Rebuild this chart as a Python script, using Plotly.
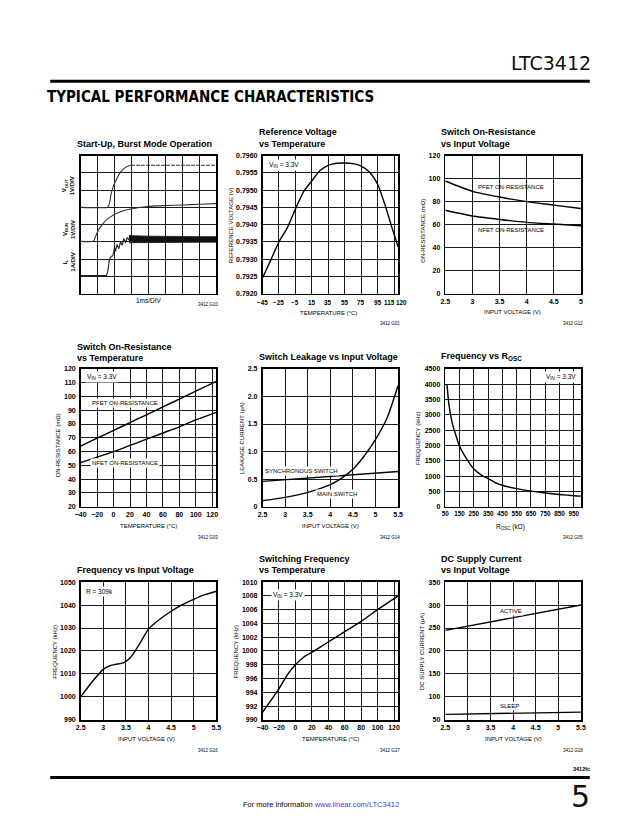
import plotly.graph_objects as go

W, H = 639, 829
SANS = "Liberation Sans, Arial, Helvetica, sans-serif"

# ---------------- DATA ----------------
# Panel 1: start-up scope traces (divisions)
vout_x = [0, 1.55, 1.65, 1.73, 1.8, 1.9, 2.0, 2.1, 2.25, 2.39, 2.55, 2.68, 2.85, 2.97]
vout_y = [5.0, 5.0, 5.1, 5.4, 5.8, 6.15, 6.4, 6.6, 6.9, 7.1, 7.25, 7.35, 7.42, 7.45]
vout_tail_x = [2.97, 8.0]
vout_tail_y = [7.45, 7.45]
vrun_x = [0, 0.75, 0.85, 1.04, 1.25, 1.43, 1.62, 1.81, 2.1, 2.39, 2.68, 2.97, 3.45, 3.93, 4.9, 6.05, 7.0, 8.0]
vrun_y = [3.03, 3.03, 3.25, 3.67, 3.97, 4.19, 4.36, 4.48, 4.64, 4.76, 4.85, 4.91, 4.99, 5.05, 5.1, 5.14, 5.18, 5.22]
il_x = [0, 1.52, 1.6, 1.7, 1.8, 1.9, 2.0, 2.05, 2.15, 2.25, 2.35, 2.45, 2.55, 2.65, 2.75, 2.85]
il_y = [1.05, 1.05, 1.3, 2.0, 2.15, 2.2, 2.7, 2.45, 2.85, 2.6, 3.0, 2.8, 3.2, 2.95, 3.25, 3.1]
il_band_x = [2.85, 3.0, 4.0, 5.0, 6.0, 7.0, 8.0]
il_band_hi = [3.38, 3.36, 3.33, 3.31, 3.31, 3.3, 3.3]
il_band_lo = [2.95, 2.97, 2.98, 2.98, 2.98, 2.98, 2.98]

# Panel 2: reference voltage vs temperature
ref_t = [-45, -35, -25, -15, -5, 5, 15, 25, 35, 45, 55, 65, 75, 85, 95, 105, 112, 120]
ref_v = [0.79245, 0.79297, 0.79350, 0.79390, 0.79445, 0.79496, 0.79527, 0.79557, 0.79572,
         0.79578, 0.79579, 0.79577, 0.79570, 0.79553, 0.79517, 0.79450, 0.79395, 0.79335]
ref_xticks = [-45, -25, -5, 15, 35, 55, 75, 95, 115, 120]
ref_xrange = [-45, 120]

# Panel 3: switch on-resistance vs input voltage
ronv_v = [2.5, 3.0, 3.5, 4.0, 4.5, 5.0]
ronv_pfet = [98, 89, 84, 80, 77, 74]
ronv_nfet = [72.5, 67.5, 64.5, 62, 60.5, 59]

# Panel 4: switch on-resistance vs temperature
ront_t = [-40, -20, 0, 20, 40, 60, 80, 100, 125]
ront_pfet = [64, 69.7, 75.4, 81, 86.7, 92.4, 98.1, 103.8, 111]
ront_nfet = [52, 56, 60, 64.5, 69, 73.5, 78, 83, 88.5]

# Panel 5: switch leakage vs input voltage
leak_v = [2.5, 3.0, 3.5, 4.0, 4.25, 4.5, 4.75, 5.0, 5.25, 5.5]
leak_main = [0.11, 0.17, 0.26, 0.40, 0.52, 0.68, 0.92, 1.22, 1.6, 2.2]
leak_sync_v = [2.5, 5.5]
leak_sync = [0.46, 0.64]

# Panel 6: frequency vs ROSC
rosc = [62, 75, 100, 125, 150, 200, 250, 300, 350, 400, 450, 550, 650, 750, 850, 950, 1000]
rosc_f = [4000, 3350, 2700, 2320, 1970, 1560, 1230, 1040, 920, 790, 700, 590, 510, 450, 400, 360, 345]

# Panel 7: frequency vs input voltage
fv_v = [2.5, 2.75, 3.0, 3.15, 3.27, 3.4, 3.5, 3.6, 3.67, 3.8, 4.0, 4.25, 4.5, 4.75, 5.0, 5.25, 5.5]
fv_f = [1000, 1006.5, 1012, 1013.6, 1014.2, 1014.6, 1015.5, 1017.2, 1019, 1023, 1029.5, 1033.8, 1037.3, 1040.2, 1042.5, 1044.5, 1046]

# Panel 8: switching frequency vs temperature
ft_t = [-40, -30, -20, -10, 0, 10, 20, 40, 60, 80, 100, 125]
ft_f = [991.1, 992.8, 994.5, 996.5, 998.0, 999.1, 999.8, 1001.3, 1002.8, 1004.3, 1006.0, 1008.0]

# Panel 9: DC supply current vs input voltage
dc_v = [2.5, 5.5]
dc_active = [245, 300]
dc_sleep = [62, 67]

# ---------------- LAYOUT HELPERS ----------------
def X(px):
    return px / W

def Y(py):
    return 1 - py / H

cols = [(76, 214), (261, 399), (447, 585)]
rows = [(153, 292), (368, 507), (583, 722)]
PADL = 5   # annotation inner padding compensation (left-anchored)
PADR = 5   # (right-anchored)

fig = go.Figure()
layout = dict(width=W, height=H, margin=dict(l=0, r=0, t=0, b=0),
              paper_bgcolor="white", plot_bgcolor="white", showlegend=False)

TICK = 7


def make_axes(n, col, row, xr, xt, yr, yt, xtt=None, ytt=None, labels=True, xlabels=True,
              yfmt=None, xsize=TICK):
    c0, c1 = cols[col]
    r0, r1 = rows[row]
    sfx = "" if n == 1 else str(n)
    common = dict(showgrid=True, gridcolor="#1a1a1a", gridwidth=1, zeroline=False,
                  showline=True, linecolor="black", linewidth=1.6, mirror=True,
                  ticks="", fixedrange=True)
    xa = dict(common, domain=[X(c0), X(c1)], range=xr, tickvals=xt, anchor="y" + sfx,
              tickangle=0, showticklabels=labels and xlabels, ticklabelstandoff=0,
              tickfont=dict(family=SANS, size=xsize, color="black", weight="bold"))
    ya = dict(common, domain=[Y(r1), Y(r0)], range=yr, tickvals=yt, anchor="x" + sfx,
              showticklabels=labels, ticklabelstandoff=2,
              tickfont=dict(family=SANS, size=TICK, color="black", weight="bold"))
    if xtt is not None:
        xa["ticktext"] = xtt
    if ytt is not None:
        ya["ticktext"] = ytt
    if yfmt:
        ya["tickformat"] = yfmt
    layout["xaxis" + sfx] = xa
    layout["yaxis" + sfx] = ya
    return "x" + sfx, "y" + sfx


def line(xs, ys, ax, width=1.4, color="black", dash=None):
    fig.add_trace(go.Scatter(x=xs, y=ys, xaxis=ax[0], yaxis=ax[1], mode="lines",
                             line=dict(color=color, width=width, dash=dash, shape="spline", smoothing=0.6),
                             hoverinfo="skip"))


annotations = []


def txt(x, y, s, size=6, xanchor="center", yanchor="middle", angle=0, bold=False, color="black",
        xref="paper", yref="paper", bg=None, family=SANS):
    a = dict(x=x, y=y, xref=xref, yref=yref, text=s, showarrow=False, xanchor=xanchor,
             yanchor=yanchor, textangle=angle,
             font=dict(family=family, size=size, color=color, weight="bold" if bold else "normal"))
    if bg:
        a["bgcolor"] = bg
        a["borderpad"] = 1
    annotations.append(a)


def title(col_px, lines, y_last):
    n = len(lines)
    for i, s in enumerate(lines):
        txt(X(col_px - PADL), Y(y_last - (n - 1 - i) * 11.5), s, size=9, xanchor="left", bold=True)


def code(right_px, y_px, s):
    txt(X(right_px + PADR), Y(y_px), s, size=4.5, xanchor="right")


# ---------------- PANEL 1 ----------------
a1 = make_axes(1, 0, 0, [0, 8], list(range(9)), [0, 8], list(range(9)), labels=False)
fig.add_trace(go.Scatter(x=il_band_x + il_band_x[::-1], y=il_band_hi + il_band_lo[::-1],
                         xaxis=a1[0], yaxis=a1[1], mode="lines", fill="toself",
                         fillcolor="#111", line=dict(color="#111", width=0.8), hoverinfo="skip"))
fig.add_trace(go.Scatter(x=il_x, y=il_y, xaxis=a1[0], yaxis=a1[1], mode="lines",
                         line=dict(color="#222", width=1.1), hoverinfo="skip"))
line(vout_x, vout_y, a1, width=1.1, color="#333")
fig.add_trace(go.Scatter(x=vout_tail_x, y=vout_tail_y, xaxis=a1[0], yaxis=a1[1], mode="lines",
                         line=dict(color="#333", width=1.1, dash="4px,1px"), hoverinfo="skip"))
line(vrun_x, vrun_y, a1, width=1.1, color="#333")
title(75, ["Start-Up, Burst Mode Operation"], 141)
txt(X(64), Y(183), "V<sub>OUT</sub><br>1V/DIV", size=6, angle=-90, bold=True)
txt(X(64), Y(227), "V<sub>RUN</sub><br>1V/DIV", size=6, angle=-90, bold=True)
txt(X(64), Y(260), "I<sub>L</sub><br>1A/DIV", size=6, angle=-90, bold=True)
txt(X(145), Y(299), "1ms/DIV", size=6.5)
code(213, 303, "3412 G10")

# ---------------- PANEL 2 ----------------
a2 = make_axes(2, 1, 0, ref_xrange, ref_xticks,
               [0.7920, 0.7960], [0.7920 + 0.0005 * i for i in range(9)], yfmt=".4f", xlabels=False)
line(ref_t, ref_v, a2)
span = ref_xrange[1] - ref_xrange[0]
for tv in ref_xticks:
    lab = "−" + str(-tv) if tv < 0 else str(tv)
    frac = (tv - ref_xrange[0]) / span
    if tv == 115:
        txt(frac + 0.022, -0.065, lab, size=6.3, bold=True, xanchor="right", xref="x2 domain", yref="y2 domain")
    elif tv == 120:
        txt(frac - 0.03, -0.065, lab, size=6.3, bold=True, xanchor="left", xref="x2 domain", yref="y2 domain")
    else:
        txt(frac, -0.065, lab, size=6.3, bold=True, xref="x2 domain", yref="y2 domain")
title(260, ["Reference Voltage", "vs Temperature"], 141)
txt(X(229), Y(223), "REFERENCE VOLTAGE (V)", angle=-90)
txt(X(328), Y(312), "TEMPERATURE (°C)")
code(398, 322, "3412 G01")
txt(0.03, 0.935, "V<sub>IN</sub> = 3.3V", size=6.5, xanchor="left", xref="x2 domain", yref="y2 domain", bg="white")

# ---------------- PANEL 3 ----------------
a3 = make_axes(3, 2, 0, [2.5, 5], [2.5, 3, 3.5, 4, 4.5, 5], [0, 120], list(range(0, 121, 20)))
line(ronv_v, ronv_pfet, a3)
line(ronv_v, ronv_nfet, a3)
title(446, ["Switch On-Resistance", "vs Input Voltage"], 141)
txt(3.72, 93, "PFET ON-RESISTANCE", xref="x3", yref="y3")
txt(3.72, 55, "NFET ON-RESISTANCE", xref="x3", yref="y3")
txt(X(424), Y(229), "ON-RESISTANCE (mΩ)", angle=-90)
txt(X(515), Y(311), "INPUT VOLTAGE (V)")
code(584, 322, "3412 G12")

# ---------------- PANEL 4 ----------------
a4 = make_axes(4, 0, 1, [-40, 125], list(range(-40, 121, 20)), [20, 120], list(range(20, 121, 10)))
line(ront_t, ront_pfet, a4)
line(ront_t, ront_nfet, a4)
title(75, ["Switch On-Resistance", "vs Temperature"], 357)
txt(14, 95, "PFET ON-RESISTANCE", xref="x4", yref="y4", bg="white")
txt(14, 52, "NFET ON-RESISTANCE", xref="x4", yref="y4", bg="white")
txt(0.03, 0.94, "V<sub>IN</sub> = 3.3V", size=6.5, xanchor="left", xref="x4 domain", yref="y4 domain", bg="white")
txt(X(53), Y(445), "ON-RESISTANCE (mΩ)", angle=-90)
txt(X(145), Y(526), "TEMPERATURE (°C)")
code(213, 538, "3412 G03")

# ---------------- PANEL 5 ----------------
a5 = make_axes(5, 1, 1, [2.5, 5.5], [2.5, 3, 3.5, 4, 4.5, 5, 5.5], [0, 2.5], [0, 0.5, 1, 1.5, 2, 2.5],
               ytt=["0", "0.5", "1.0", "1.5", "2.0", "2.5"])
line(leak_v, leak_main, a5)
line(leak_sync_v, leak_sync, a5)
title(260, ["Switch Leakage vs Input Voltage"], 356)
txt(3.36, 0.645, "SYNCHRONOUS SWITCH", xref="x5", yref="y5", bg="white")
txt(4.14, 0.23, "MAIN SWITCH", xref="x5", yref="y5", bg="white")
txt(X(240), Y(438), "LEAKAGE CURRENT (pA)", angle=-90)
txt(X(330), Y(526), "INPUT VOLTAGE (V)")
code(398, 538, "3412 G14")

# ---------------- PANEL 6 ----------------
a6 = make_axes(6, 2, 1, [50, 1000], list(range(50, 951, 100)), [0, 4500], list(range(0, 4501, 500)),
               xsize=6.3)
line(rosc, rosc_f, a6)
title(446, ["Frequency vs R<sub>OSC</sub>"], 356)
txt(0.975, 0.94, "V<sub>IN</sub> = 3.3V", size=6.5, xanchor="right", xref="x6 domain", yref="y6 domain", bg="white")
txt(X(420), Y(438), "FREQUENCY (kHz)", angle=-90)
txt(X(513), Y(527), "R<sub>OSC</sub> (kΩ)", size=6.5)
code(584, 538, "3412 G05")

# ---------------- PANEL 7 ----------------
a7 = make_axes(7, 0, 2, [2.5, 5.5], [2.5, 3, 3.5, 4, 4.5, 5, 5.5], [990, 1050], list(range(990, 1051, 10)))
line(fv_v, fv_f, a7)
title(75, ["Frequency vs Input Voltage"], 571)
txt(0.025, 0.935, "R = 309k", size=6.5, xanchor="left", xref="x7 domain", yref="y7 domain", bg="white")
txt(X(50), Y(653), "FREQUENCY (kHz)", angle=-90)
txt(X(143), Y(741), "INPUT VOLTAGE (V)")
code(213, 753, "3412 G16")

# ---------------- PANEL 8 ----------------
a8 = make_axes(8, 1, 2, [-40, 125], list(range(-40, 121, 20)), [990, 1010], list(range(990, 1011, 2)))
line(ft_t, ft_f, a8)
title(260, ["Switching Frequency", "vs Temperature"], 571)
txt(0.065, 0.906, "V<sub>IN</sub> = 3.3V", size=6.5, xanchor="left", xref="x8 domain", yref="y8 domain", bg="white")
txt(X(235), Y(653), "FREQUENCY (kHz)", angle=-90)
txt(X(330), Y(741), "TEMPERATURE (°C)")
code(398, 753, "3412 G17")

# ---------------- PANEL 9 ----------------
a9 = make_axes(9, 2, 2, [2.5, 5.5], [2.5, 3, 3.5, 4, 4.5, 5, 5.5], [50, 350], list(range(50, 351, 50)))
line(dc_v, dc_active, a9)
line(dc_v, dc_sleep, a9)
title(446, ["DC Supply Current", "vs Input Voltage"], 571)
txt(3.95, 288, "ACTIVE", xref="x9", yref="y9", bg="white")
txt(3.91, 81, "SLEEP", xref="x9", yref="y9", bg="white")
txt(X(424), Y(653), "DC SUPPLY CURRENT (µA)", angle=-90)
txt(X(516), Y(741), "INPUT VOLTAGE (V)")
code(584, 753, "3412 G18")

# ---------------- PAGE HEADER / FOOTER ----------------
txt(X(592 + PADR), Y(60), "LTC3412", size=19, xanchor="right", family="DejaVu Sans, sans-serif", color="#111")
txt(X(45 - PADL), Y(94), "TYPICAL PERFORMANCE CHARACTERISTICS", size=15, xanchor="left", bold=True,
    family="DejaVu Sans Condensed, DejaVu Sans, sans-serif")
txt(X(591 + PADR), Y(772), "3412fc", size=5.5, xanchor="right", bold=True)
txt(X(591 + PADR), Y(799), "5", size=30, xanchor="right", family="DejaVu Sans, sans-serif", color="#111")
txt(X(242 - 3), Y(807), "For more information <span style='color:#3344dd'>www.linear.com/LTC3412</span>",
    size=7.5, xanchor="left")

shapes = [
    dict(type="line", xref="paper", yref="paper", x0=X(45), x1=X(594), y0=Y(78), y1=Y(78),
         line=dict(color="black", width=3)),
    dict(type="line", xref="paper", yref="paper", x0=X(45), x1=X(594), y0=Y(780), y1=Y(780),
         line=dict(color="black", width=3)),
]

layout["annotations"] = annotations
layout["shapes"] = shapes
fig.update_layout(**layout)
fig.write_html("out.html", config={"displayModeBar": False, "staticPlot": True},
               post_script="document.body.style.margin='0';document.body.style.overflow='hidden';")
